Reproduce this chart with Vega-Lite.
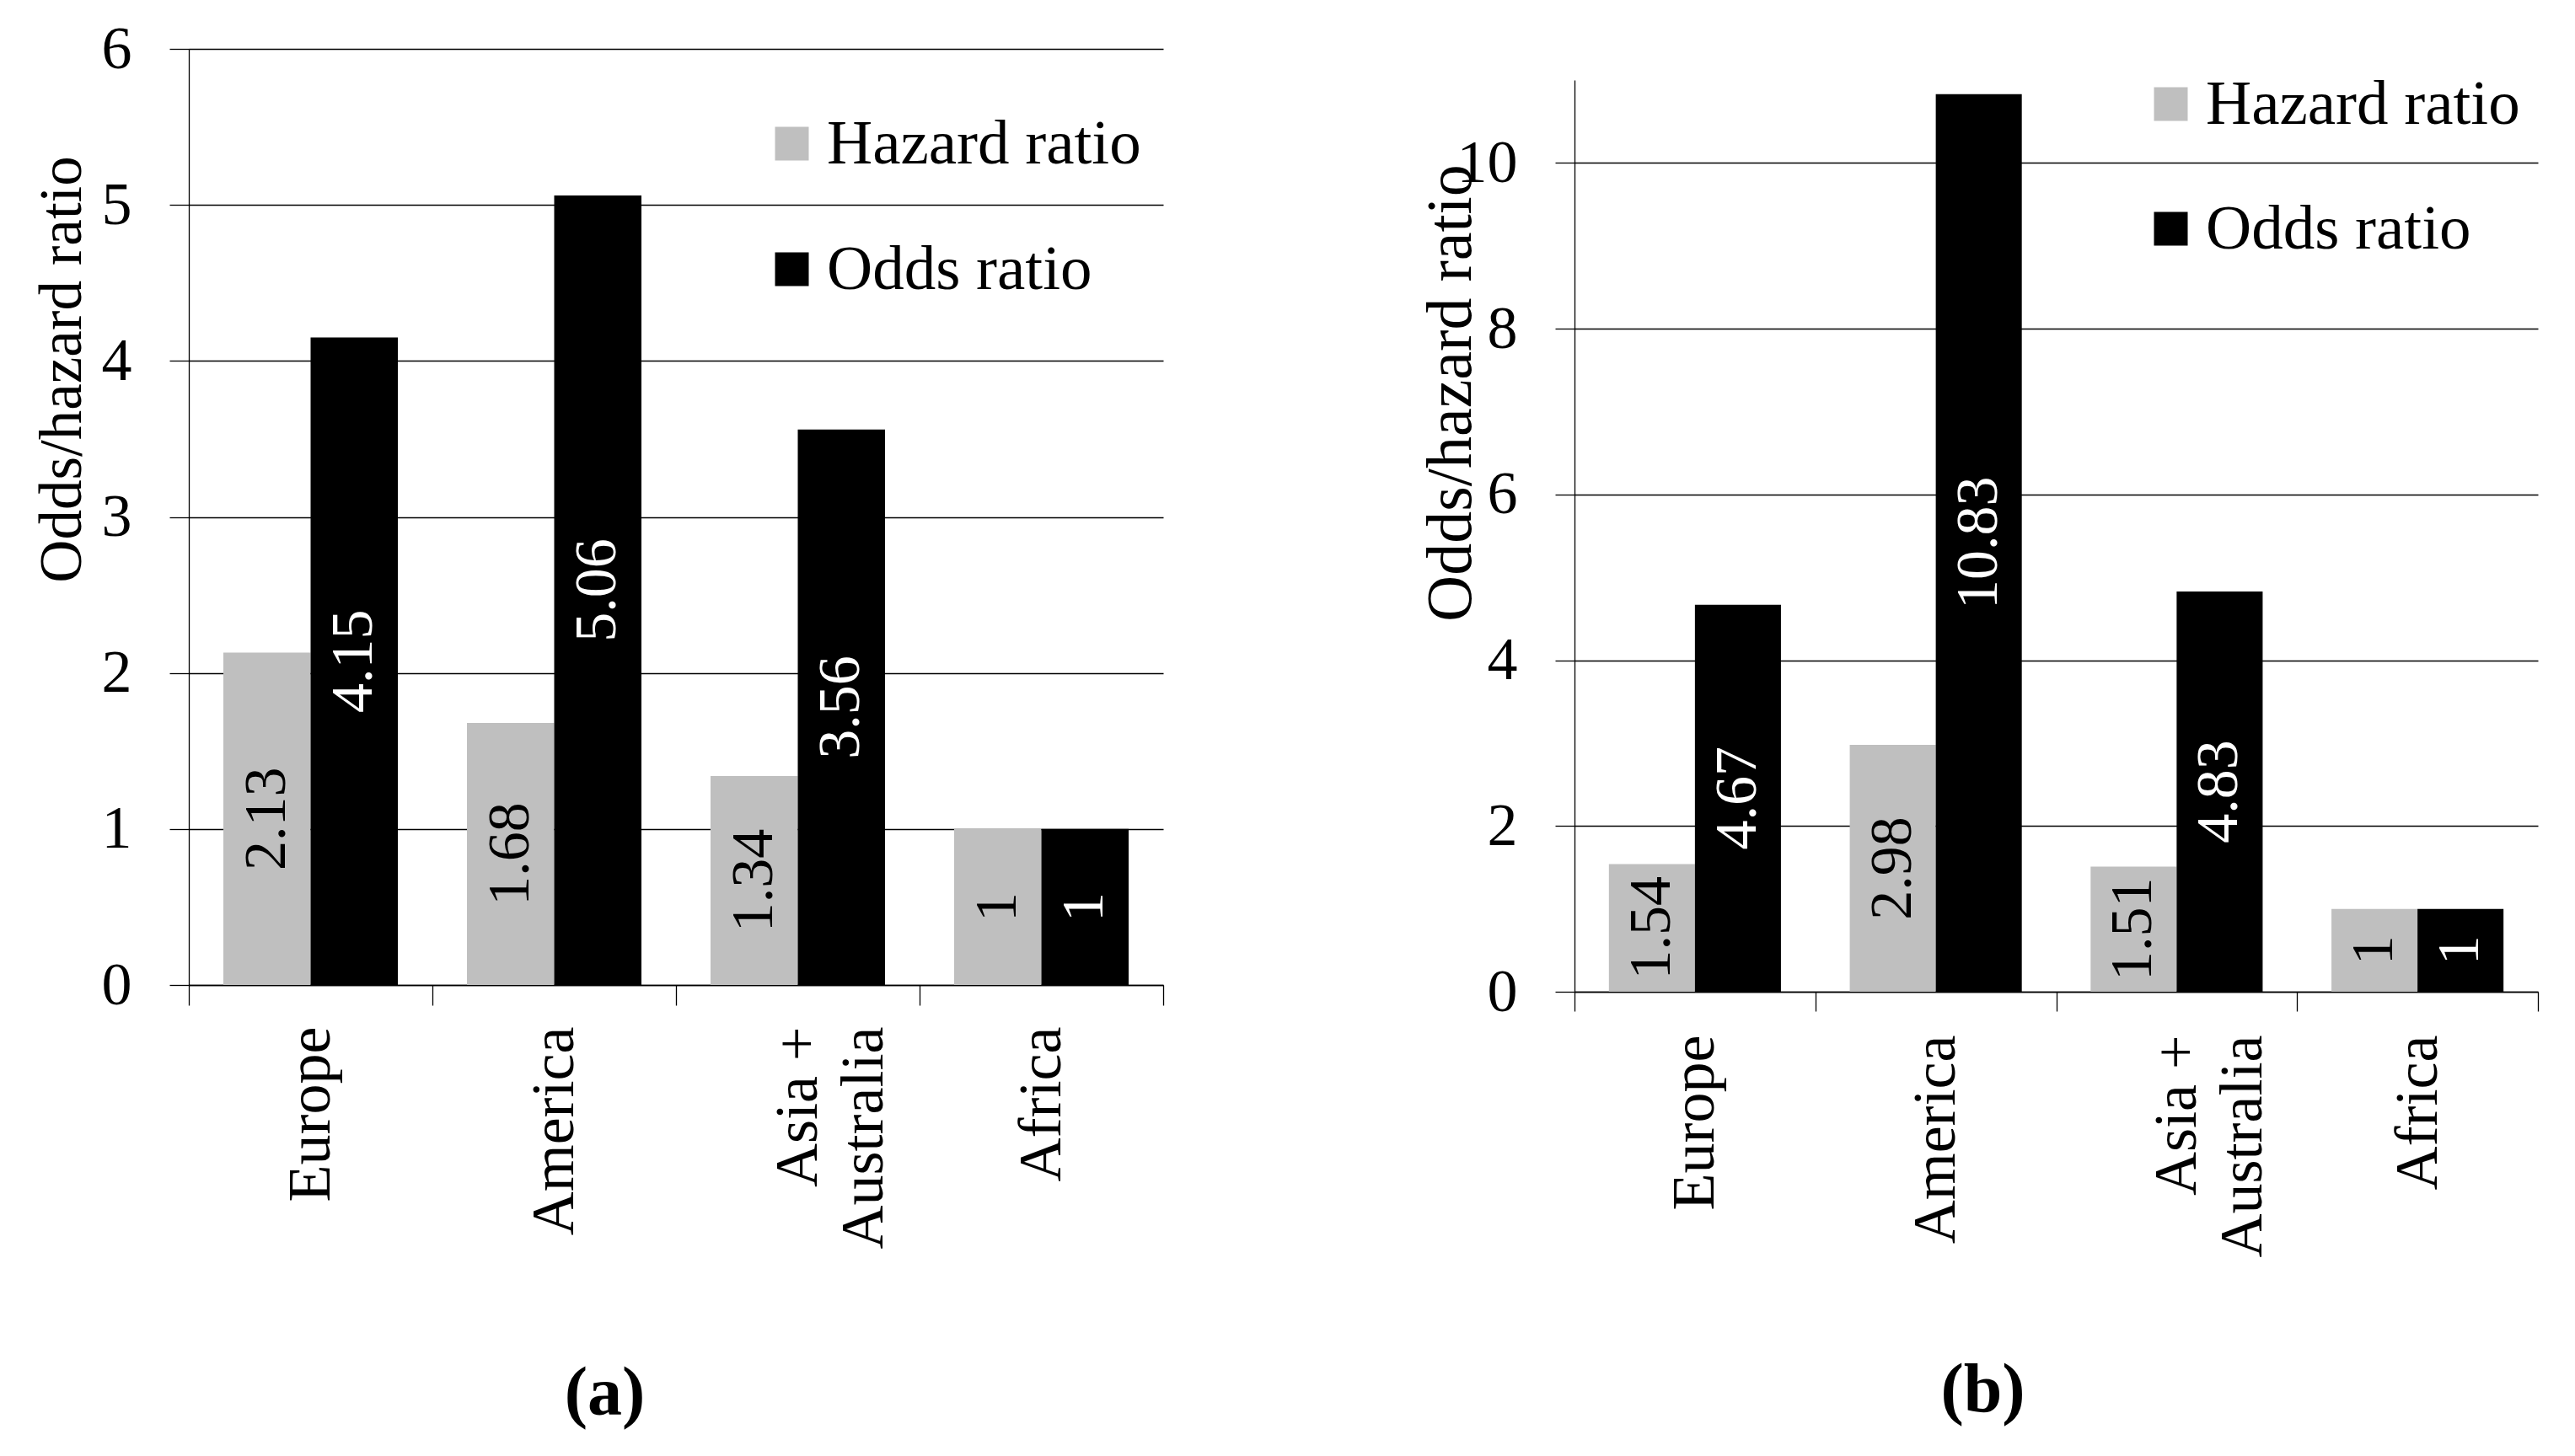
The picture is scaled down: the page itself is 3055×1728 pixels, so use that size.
{
  "$schema": "https://vega.github.io/schema/vega-lite/v6.json",
  "background": "white",
  "padding": {"left": 38, "top": 22, "right": 5, "bottom": 5},
  "config": {
    "font": "Liberation Serif",
    "view": {"stroke": null},
    "axis": {
      "labelFont": "Liberation Serif",
      "titleFont": "Liberation Serif",
      "labelColor": "#000000",
      "titleColor": "#000000",
      "domainColor": "#000000",
      "tickColor": "#000000",
      "gridColor": "#000000",
      "labelFontSize": 72,
      "titleFontSize": 71,
      "titleFontWeight": "normal",
      "domainWidth": 1.3,
      "tickWidth": 1.3,
      "gridWidth": 1.3,
      "gridOpacity": 1,
      "tickSize": 23,
      "labelLimit": 1000,
      "labelOverlap": false
    },
    "title": {"font": "Liberation Serif"}
  },
  "datasets": {
    "a": [
      {"region": "Europe", "group": "Hazard ratio", "value": 2.13},
      {"region": "Europe", "group": "Odds ratio", "value": 4.15},
      {"region": "America", "group": "Hazard ratio", "value": 1.68},
      {"region": "America", "group": "Odds ratio", "value": 5.06},
      {"region": "Asia + Australia", "group": "Hazard ratio", "value": 1.34},
      {"region": "Asia + Australia", "group": "Odds ratio", "value": 3.56},
      {"region": "Africa", "group": "Hazard ratio", "value": 1},
      {"region": "Africa", "group": "Odds ratio", "value": 1}
    ],
    "b": [
      {"region": "Europe", "group": "Hazard ratio", "value": 1.54},
      {"region": "Europe", "group": "Odds ratio", "value": 4.67},
      {"region": "America", "group": "Hazard ratio", "value": 2.98},
      {"region": "America", "group": "Odds ratio", "value": 10.83},
      {"region": "Asia + Australia", "group": "Hazard ratio", "value": 1.51},
      {"region": "Asia + Australia", "group": "Odds ratio", "value": 4.83},
      {"region": "Africa", "group": "Hazard ratio", "value": 1},
      {"region": "Africa", "group": "Odds ratio", "value": 1}
    ]
  },
  "spacing": 302,
  "resolve": {
    "scale": {"x": "independent", "y": "independent", "xOffset": "independent"},
    "legend": {"color": "independent"}
  },
  "hconcat": [
    {
      "width": 1156,
      "height": 1111,
      "data": {"name": "a"},
      "transform": [{"calculate": "datum.value / 2", "as": "mid"}],
      "encoding": {
        "x": {
          "field": "region",
          "type": "nominal",
          "sort": ["Europe", "America", "Asia + Australia", "Africa"],
          "scale": {"paddingInner": 0, "paddingOuter": 0},
          "axis": {
            "title": "(a)",
            "titleFontSize": 82,
            "titleFontWeight": "bold",
            "titleX": 493,
            "titleY": 509,
            "titleBaseline": "alphabetic",
            "titleAlign": "center",
            "labelAngle": -90,
            "labelAlign": "right",
            "labelBaseline": "middle",
            "labelLineHeight": 78,
            "labelPadding": 25,
            "labelLimit": 1000,
            "tickSize": 24,
            "tickBand": "extent",
            "grid": false,
            "domainColor": "#000000",
            "tickColor": "#000000",
            "labelExpr": "datum.value == 'Asia + Australia' ? ['Asia +', 'Australia'] : datum.label"
          }
        },
        "xOffset": {
          "field": "group",
          "type": "nominal",
          "sort": ["Hazard ratio", "Odds ratio"],
          "scale": {"paddingInner": 0, "paddingOuter": 0.396}
        }
      },
      "layer": [
        {
          "mark": {"type": "bar"},
          "encoding": {
            "y": {
              "field": "value",
              "type": "quantitative",
              "title": "Odds/hazard ratio",
              "scale": {"domain": [0, 6]},
              "axis": {
                "values": [0, 1, 2, 3, 4, 5, 6],
                "format": "~g",
                "grid": true,
                "labelPadding": 45,
                "titleAngle": -90,
                "titleX": -150,
                "titleY": 380,
                "titleAlign": "center",
                "titleBaseline": "middle",
                "domainColor": "#000000",
                "tickColor": "#000000",
                "gridColor": "#000000"
              }
            },
            "color": {
              "field": "group",
              "type": "nominal",
              "scale": {"domain": ["Hazard ratio", "Odds ratio"], "range": ["#bfbfbf", "#000000"]},
              "legend": {
                "orient": "none",
                "legendX": 678,
                "legendY": 75,
                "title": null,
                "symbolType": "square",
                "symbolSize": 1600,
                "symbolStrokeWidth": 0,
                "labelFont": "Liberation Serif",
                "labelFontSize": 75,
                "labelColor": "#000000",
                "labelOffset": 4,
                "rowPadding": 73,
                "padding": 0,
                "labelLimit": 1000
              }
            }
          }
        },
        {
          "mark": {"type": "text", "angle": -90, "align": "center", "baseline": "middle", "fontSize": 70, "font": "Liberation Serif"},
          "encoding": {
            "y": {"field": "mid", "type": "quantitative", "title": "Odds/hazard ratio"},
            "text": {"field": "value", "type": "quantitative", "format": "~g"},
            "color": {"condition": {"test": "datum.group === 'Odds ratio'", "value": "#ffffff"}, "value": "#000000"}
          }
        }
      ]
    },
    {
      "spacing": 27,
      "resolve": {
        "scale": {"x": "independent", "y": "independent", "xOffset": "independent"},
        "legend": {"color": "independent"}
      },
      "vconcat": [
        {
          "width": 1,
          "height": 1,
          "data": {"values": []},
          "mark": {"type": "point", "opacity": 0}
        },
        {
          "width": 1143,
          "height": 1082,
          "data": {"name": "b"},
          "transform": [{"calculate": "datum.value / 2", "as": "mid"}],
          "encoding": {
            "x": {
              "field": "region",
              "type": "nominal",
              "sort": ["Europe", "America", "Asia + Australia", "Africa"],
              "scale": {"paddingInner": 0, "paddingOuter": 0},
              "axis": {
                "title": "(b)",
                "titleFontSize": 82,
                "titleFontWeight": "bold",
                "titleX": 484,
                "titleY": 497,
                "titleBaseline": "alphabetic",
                "titleAlign": "center",
                "labelAngle": -90,
                "labelAlign": "right",
                "labelBaseline": "middle",
                "labelLineHeight": 78,
                "labelPadding": 28,
                "labelLimit": 1000,
                "tickSize": 23,
                "tickBand": "extent",
                "grid": false,
                "domainColor": "#000000",
                "tickColor": "#000000",
                "labelExpr": "datum.value == 'Asia + Australia' ? ['Asia +', 'Australia'] : datum.label"
              }
            },
            "xOffset": {
              "field": "group",
              "type": "nominal",
              "sort": ["Hazard ratio", "Odds ratio"],
              "scale": {"paddingInner": 0, "paddingOuter": 0.4}
            }
          },
          "layer": [
            {
              "mark": {"type": "bar"},
              "encoding": {
                "y": {
                  "field": "value",
                  "type": "quantitative",
                  "title": "Odds/hazard ratio",
                  "scale": {"domain": [0, 11]},
                  "axis": {
                    "values": [0, 2, 4, 6, 8, 10],
                    "format": "~g",
                    "grid": true,
                    "labelPadding": 45,
                    "titleAngle": -90,
                    "titleX": -147,
                    "titleY": 371,
                    "titleFontSize": 76,
                    "titleAlign": "center",
                    "titleBaseline": "middle",
                    "domainColor": "#000000",
                    "tickColor": "#000000",
                    "gridColor": "#000000"
                  }
                },
                "color": {
                  "field": "group",
                  "type": "nominal",
                  "scale": {"domain": ["Hazard ratio", "Odds ratio"], "range": ["#bfbfbf", "#000000"]},
                  "legend": {
                    "orient": "none",
                    "legendX": 670,
                    "legendY": -9,
                    "title": null,
                    "symbolType": "square",
                    "symbolSize": 1600,
                    "symbolStrokeWidth": 0,
                    "labelFont": "Liberation Serif",
                    "labelFontSize": 75,
                    "labelColor": "#000000",
                    "labelOffset": 4,
                    "rowPadding": 72,
                    "padding": 0,
                    "labelLimit": 1000
                  }
                }
              }
            },
            {
              "mark": {"type": "text", "angle": -90, "align": "center", "baseline": "middle", "fontSize": 70, "font": "Liberation Serif"},
              "encoding": {
                "y": {"field": "mid", "type": "quantitative", "title": "Odds/hazard ratio"},
                "text": {"field": "value", "type": "quantitative", "format": "~g"},
                "color": {"condition": {"test": "datum.group === 'Odds ratio'", "value": "#ffffff"}, "value": "#000000"}
              }
            }
          ]
        }
      ]
    }
  ]
}
